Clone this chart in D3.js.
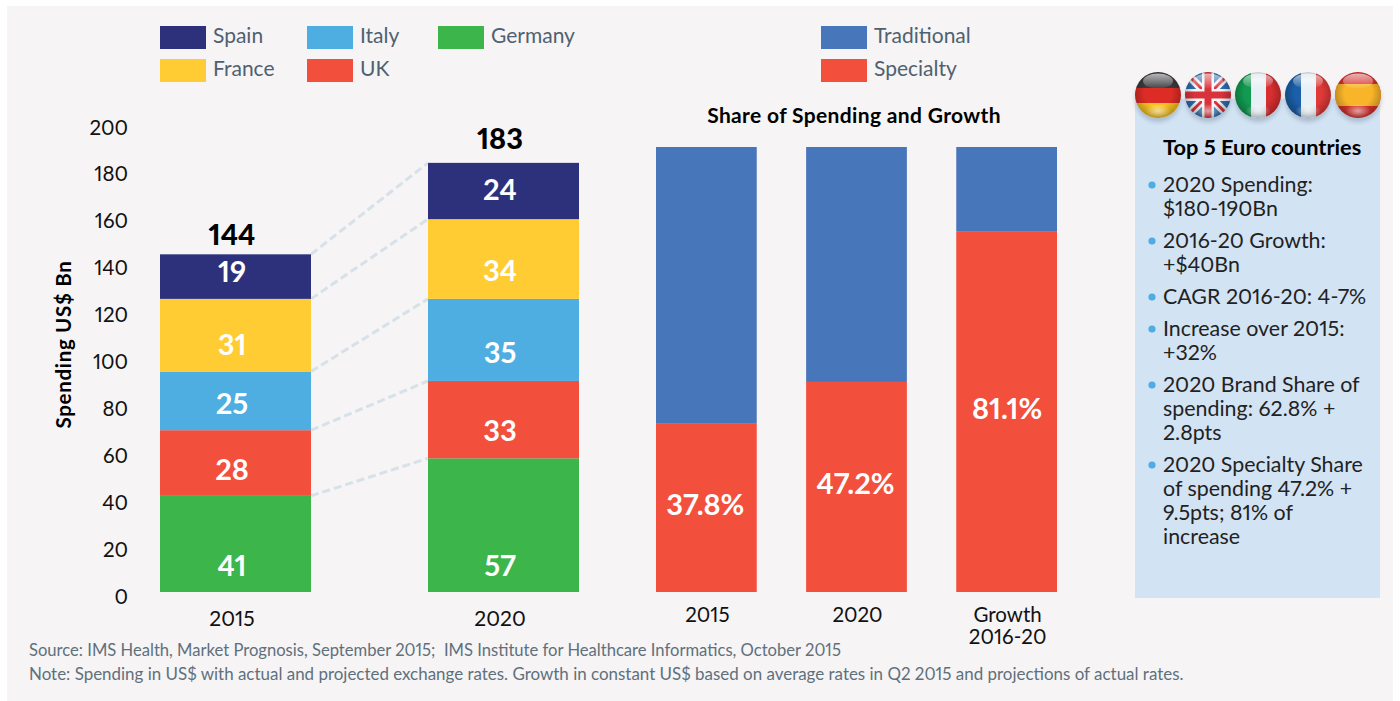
<!DOCTYPE html>
<html><head><meta charset="utf-8">
<script src="https://cdn.jsdelivr.net/npm/d3@7"></script>
<style>html,body{margin:0;padding:0;background:#fff}svg{display:block}text{font-family:Lato,sans-serif;white-space:pre;font-variant-numeric:proportional-nums;font-feature-settings:"pnum" 1}</style>
</head><body><svg id="c" width="1400" height="701"></svg>
<script>
const countries = ["Germany","UK","Italy","France","Spain"];
const colors = ["#3cb54a","#f24f3d","#4eaee2","#ffcd33","#2d317c"];
const years = ["2015","2020"];
const spend2015 = [41,28,25,31,19];
const spend2020 = [57,33,35,34,24];
const totals = [144,183];
const yTicks = [0,20,40,60,80,100,120,140,160,180,200];
const shareCats = ["2015","2020","Growth|2016-20"];
const specialtyShare = [37.8,47.2,81.1];
const shareColors = ["#4876bb","#f24f3d"];
const legendLeft = [["Spain",160,26],["Italy",307,26],["Germany",438,26],["France",160,59],["UK",307,59]];
const legendRight = [["Traditional",821,26],["Specialty",821,59]];
const panelTitle = "Top 5 Euro countries";
const bullets = [["2020 Spending:","$180-190Bn"],["2016-20 Growth:","+$40Bn"],["CAGR 2016-20: 4-7%"],["Increase over 2015:","+32%"],["2020 Brand Share of","spending: 62.8% +","2.8pts"],["2020 Specialty Share","of spending 47.2% +","9.5pts; 81% of","increase"]];
const bulletY = [185,241,297,329,385,465];
const source = "Source: IMS Health, Market Prognosis, September 2015;  IMS Institute for Healthcare Informatics, October 2015";
const note = "Note: Spending in US$ with actual and projected exchange rates. Growth in constant US$ based on average rates in Q2 2015 and projections of actual rates.";
// hand-placed label nudges of the original, from the segment's middle
const nudge2015 = [22.5,7,3,10,-5];
const nudge2020 = [41,11,13,12,-1];

const svg = d3.select("#c");
const defs = svg.append("defs");
svg.append("rect").attr("x",7).attr("y",6).attr("width",1386).attr("height",695).attr("fill","#f6f4f5");

// legends
const colorOf = n => n==="Traditional"?shareColors[0]:n==="Specialty"?shareColors[1]:colors[countries.indexOf(n)];
[...legendLeft,...legendRight].forEach(([n,x,y])=>{
  svg.append("rect").attr("x",x).attr("y",y).attr("width",46).attr("height",23).attr("fill",colorOf(n));
  svg.append("text").attr("x",x+53).attr("y",y+16.5).attr("font-size",21).attr("fill","#4f6170").text(n);
});

// left chart
const y = d3.scaleLinear().domain([0,200]).range([592,123]);
const xL = d3.scaleBand().domain(years).range([160,579]).paddingInner(0.4366).paddingOuter(0);
const axis = d3.axisLeft(y).tickValues(yTicks).tickSize(0).tickPadding(0);
const ax = svg.append("g").attr("transform","translate(128,4.5)").call(axis);
ax.select(".domain").remove();
ax.selectAll("text").attr("font-size",20.5).attr("fill","#111").style("font-family","Lato,sans-serif");
svg.append("text").attr("transform","translate(71,344.5) rotate(-90)").attr("text-anchor","middle").attr("font-size",20.5).attr("letter-spacing",0.7).attr("font-weight",700).attr("fill","#000").text("Spending US$ Bn");

const stack = vals => { let c=0; return vals.map(v=>{const r=[c,c+v];c+=v;return r;}); };
const s15 = stack(spend2015), s20 = stack(spend2020);
// connectors
s15.forEach((d,i)=>{
  svg.append("line").attr("x1",xL("2015")+xL.bandwidth()).attr("y1",y(d[1])).attr("x2",xL("2020")).attr("y2",y(s20[i][1]))
    .attr("stroke","#d7e1e8").attr("stroke-width",3).attr("stroke-dasharray","8 4");
});
[["2015",s15,spend2015,totals[0],nudge2015,-9],["2020",s20,spend2020,totals[1],nudge2020,-14]].forEach(([yr,st,vals,tot,nudge,totDy])=>{
  const g = svg.append("g");
  const cx = xL(yr)+xL.bandwidth()/2-3.5;
  g.selectAll("rect").data(st).join("rect").attr("x",xL(yr)).attr("width",xL.bandwidth())
    .attr("y",d=>y(d[1])).attr("height",d=>y(d[0])-y(d[1])).attr("fill",(d,i)=>colors[i]);
  g.selectAll("text.v").data(st).join("text").attr("class","v").attr("text-anchor","middle")
    .attr("x",cx)
    .attr("y",(d,i)=> y((d[0]+d[1])/2)+10+nudge[i])
    .attr("font-size",29).attr("font-weight",700).attr("fill","#fff").text((d,i)=>vals[i]);
  svg.append("text").attr("text-anchor","middle").attr("x",cx).attr("y",y(tot)+totDy)
    .attr("font-size",29).attr("font-weight",900).attr("fill","#000").text(tot);
  svg.append("text").attr("text-anchor","middle").attr("x",cx).attr("y",626).attr("font-size",21).attr("fill","#111").text(yr);
});

// right chart
const ys = d3.scaleLinear().domain([0,100]).range([592,147]);
const xR = d3.scaleBand().domain(shareCats).range([656,1057]).paddingInner(0.329).paddingOuter(0);
svg.append("text").attr("x",854).attr("y",123).attr("text-anchor","middle").attr("font-size",21).attr("letter-spacing",0.35).attr("font-weight",700).attr("fill","#000").text("Share of Spending and Growth");
shareCats.forEach((c,i)=>{
  const x=xR(c), w=xR.bandwidth(), p=specialtyShare[i];
  svg.append("rect").attr("x",x).attr("width",w).attr("y",ys(100)).attr("height",ys(p)-ys(100)).attr("fill",shareColors[0]);
  svg.append("rect").attr("x",x).attr("width",w).attr("y",ys(p)).attr("height",ys(0)-ys(p)).attr("fill",shareColors[1]);
  svg.append("text").attr("x",x+w/2-(i<2?1:-0.5)).attr("text-anchor","middle").attr("y",[515,494,419][i]).attr("font-size",29).attr("font-weight",700).attr("fill","#fff").text(p+"%");
  c.split("|").forEach((t,k)=>svg.append("text").attr("x",x+w/2+1).attr("y",622+k*22).attr("text-anchor","middle").attr("font-size",20.5).attr("fill","#111").text(t));
});

// side panel
svg.append("rect").attr("x",1135).attr("y",99).attr("width",245).attr("height",499).attr("fill","#d2e3f4");
svg.append("text").attr("x",1163).attr("y",155).attr("font-size",21.8).attr("font-weight",700).attr("fill","#000").text(panelTitle);
bullets.forEach((lines,i)=>{
  svg.append("circle").attr("cx",1152).attr("cy",bulletY[i]).attr("r",3.6).attr("fill","#4eaee2");
  lines.forEach((t,k)=>svg.append("text").attr("x",1163).attr("y",bulletY[i]+7+k*24).attr("font-size",21.4).attr("fill","#222").text(t));
});

// flags
const flagCx=[1158,1208,1258,1308,1358], flagCy=95, r=23;
const shine = defs.append("radialGradient").attr("id","shade").attr("cx","50%").attr("cy","45%").attr("r","55%");
shine.append("stop").attr("offset","55%").attr("stop-color","#000").attr("stop-opacity",0);
shine.append("stop").attr("offset","100%").attr("stop-color","#000").attr("stop-opacity",0.28);
const gloss = defs.append("linearGradient").attr("id","gloss").attr("x1",0).attr("y1",0).attr("x2",0).attr("y2",1);
gloss.append("stop").attr("offset","0%").attr("stop-color","#fff").attr("stop-opacity",0.65);
gloss.append("stop").attr("offset","100%").attr("stop-color","#fff").attr("stop-opacity",0.05);
const glow = defs.append("radialGradient").attr("id","glow").attr("cx","50%").attr("cy","50%").attr("r","50%");
glow.append("stop").attr("offset","0%").attr("stop-color","#fff").attr("stop-opacity",0.55);
glow.append("stop").attr("offset","100%").attr("stop-color","#fff").attr("stop-opacity",0);
const blur = defs.append("filter").attr("id","soft").attr("x","-30%").attr("y","-30%").attr("width","160%").attr("height","160%");
blur.append("feGaussianBlur").attr("stdDeviation",2);
flagCx.forEach((cx,i)=>{
  defs.append("clipPath").attr("id","f"+i).append("circle").attr("cx",cx).attr("cy",flagCy).attr("r",r);
  svg.append("ellipse").attr("cx",cx).attr("cy",flagCy+4).attr("rx",r).attr("ry",r).attr("fill","#7f8ea0").attr("opacity",.45).attr("filter","url(#soft)");
  const g=svg.append("g").attr("clip-path",`url(#f${i})`);
  const R=(x,y,w,h,f)=>g.append("rect").attr("x",cx+x).attr("y",flagCy+y).attr("width",w).attr("height",h).attr("fill",f);
  if(i===0){R(-r,-r,2*r,16,"#3a3a3e");R(-r,-7,2*r,15,"#dd2c26");R(-r,8,2*r,15,"#f9c31f");}
  if(i===1){R(-r,-r,2*r,2*r,"#2c6db1");
    const L=(a,b,c,d,col,w)=>g.append("line").attr("x1",cx+a).attr("y1",flagCy+b).attr("x2",cx+c).attr("y2",flagCy+d).attr("stroke",col).attr("stroke-width",w);
    L(-r,-r,r,r,"#f4f4f6",8);L(-r,r,r,-r,"#f4f4f6",8);L(-r,-r,r,r,"#d9323a",3);L(-r,r,r,-r,"#d9323a",3);
    L(0,-r,0,r,"#f4f4f6",12);L(-r,0,r,0,"#f4f4f6",12);L(0,-r,0,r,"#d9323a",7);L(-r,0,r,0,"#d9323a",7);}
  if(i===2){R(-r,-r,16,2*r,"#119a50");R(-7,-r,15,2*r,"#e7f0f6");R(8,-r,15,2*r,"#d72e30");}
  if(i===3){R(-r,-r,16,2*r,"#1a5fa8");R(-7,-r,15,2*r,"#e7f0f6");R(8,-r,15,2*r,"#e03a38");}
  if(i===4){R(-r,-r,2*r,2*r,"#d8322e");R(-r,-11,2*r,22,"#f9b52a");}
  g.append("circle").attr("cx",cx).attr("cy",flagCy).attr("r",r).attr("fill","url(#shade)");
  g.append("ellipse").attr("cx",cx).attr("cy",flagCy-14).attr("rx",15).attr("ry",7.5).attr("fill","url(#gloss)");
  g.append("ellipse").attr("cx",cx).attr("cy",flagCy+16).attr("rx",13).attr("ry",7).attr("fill","url(#glow)");
});

// footnotes
[[source,656,16.6],[note,680,16.95]].forEach(([t,yy,fs])=>svg.append("text").attr("x",29).attr("y",yy).attr("font-size",fs).attr("fill","#5f707c").text(t));
</script></body></html>
